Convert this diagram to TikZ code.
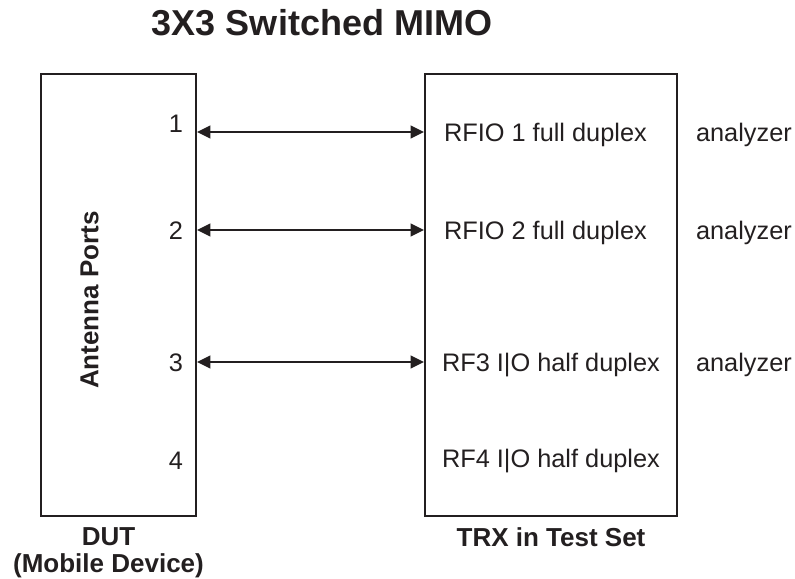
\documentclass[tikz,border=0pt]{standalone}
\usepackage{fontspec}
\setmainfont{Liberation Sans}
\usepackage{tikz}
\usetikzlibrary{positioning, arrows.meta}
\usepackage{xcolor}
\definecolor{ink}{HTML}{231F20}

\begin{document}
\begin{tikzpicture}[x=0.75pt, y=-0.75pt, >={Triangle[length=10pt,width=9.5pt]}, line width=1.6pt, ink,
    box/.style={draw, minimum height=331.5pt, inner sep=0pt},
    lbl/.style={inner sep=0pt, text height=13.6pt, text depth=0pt, font=\fontsize{19}{23}\selectfont},
    head/.style={inner sep=0pt, text height=14pt, text depth=0pt, font=\fontsize{19.5}{23}\selectfont\bfseries}]
      \useasboundingbox (0,0) rectangle (795,578);

      \node[inner sep=0pt, font=\fontsize{27}{32}\selectfont\bfseries] (title) at (322,22.5) {3X3 Switched MIMO};

      \node[box, minimum width=116.25pt] (dut) at (118.5,295) {};
      \node[box, minimum width=189pt] (trx) at (551,295) {};

      \node[head, rotate=90] (ant) at (89,300) {Antenna Ports};
      \node[head] (dutlbl) [below=6.5pt of dut, xshift=-7.5pt] {DUT};
      \node[head] (mobile) [below=5pt of dutlbl] {(Mobile Device)};
      \node[head] (trxlbl) [below=7pt of trx] {TRX in Test Set};

      \node[lbl, anchor=east] (p1) at (184,123) {1};
      \node[lbl, anchor=east] (p2) at (184,230) {2};
      \node[lbl, anchor=east] (p3) at (184,362) {3};
      \node[lbl, anchor=east] (p4) at (184,460) {4};

      \node[lbl, anchor=west] (r1) at (443,132) {RFIO 1 full duplex};
      \node[lbl, anchor=west] (r2) at (443,230) {RFIO 2 full duplex};
      \node[lbl, anchor=west] (r3) at (441,362) {RF3 I|O half duplex};
      \node[lbl, anchor=west] (r4) at (441,458) {RF4 I|O half duplex};

      \node[lbl, anchor=west] (a1) at (695,132) {analyzer};
      \node[lbl, anchor=west] (a2) at (695,230) {analyzer};
      \node[lbl, anchor=west] (a3) at (695,362) {analyzer};

      \draw[<->] (dut.east |- r1) -- (trx.west |- r1);
      \draw[<->] (dut.east |- r2) -- (trx.west |- r2);
      \draw[<->] (dut.east |- r3) -- (trx.west |- r3);
    \end{tikzpicture}
\end{document}
